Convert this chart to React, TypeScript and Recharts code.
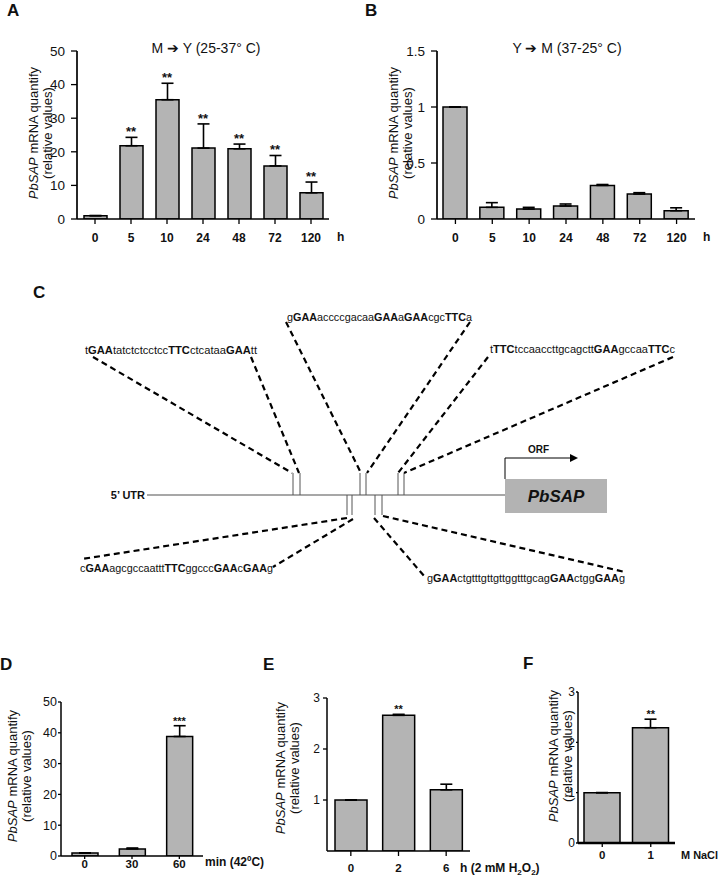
import React from 'react'
import {
  ComposedChart,
  Bar,
  Line,
  Scatter,
  XAxis,
  YAxis,
  ErrorBar,
  LabelList,
  ReferenceArea,
} from 'recharts'

const FONT = '"Liberation Sans", Arial, Helvetica, sans-serif'
const BAR_FILL = '#b4b4b4'
const INK = '#111'

// ── A: M -> Y (25-37 C) ─────────────────────────────
const hours = ['0', '5', '10', '24', '48', '72', '120']
const myMean = [1, 21.8, 35.5, 21.1, 20.9, 15.8, 7.8]
const myErr = [0, 2.5, 4.9, 7.2, 1.4, 3.1, 3.2]
const mySig = ['', '**', '**', '**', '**', '**', '**']

// ── B: Y -> M (37-25 C) ─────────────────────────────
const ymMean = [1, 0.104, 0.089, 0.116, 0.3, 0.223, 0.074]
const ymErr = [0, 0.042, 0.015, 0.018, 0.008, 0.012, 0.026]
const ymSig = ['', '', '', '', '', '', '']

// ── D: heat shock 42 C ──────────────────────────────
const heatMin = ['0', '30', '60']
const heatMean = [1, 2.3, 38.8]
const heatErr = [0, 0.3, 3.5]
const heatSig = ['', '', '***']

// ── E: 2 mM H2O2 ────────────────────────────────────
const oxHours = ['0', '2', '6']
const oxMean = [1, 2.66, 1.2]
const oxErr = [0, 0.02, 0.11]
const oxSig = ['', '**', '']

// ── F: 1 M NaCl ─────────────────────────────────────
const naclM = ['0', '1']
const naclMean = [1, 2.29]
const naclErr = [0, 0.17]
const naclSig = ['', '**']

// ── C: promoter diagram (page coordinates) ──────────
const utrSpan = [147, 505]
const utrY = 495
const topSites = [293, 300, 360, 366, 398, 404]
const bottomSites = [347, 352, 375, 382]
const connectors = [
  [93, 357, 292, 473],
  [251, 357, 299, 473],
  [286, 322, 361, 473],
  [470, 322, 367, 473],
  [488, 357, 398, 473],
  [673, 357, 404, 473],
  [347, 518, 82, 559],
  [353, 519, 273, 567],
  [374, 518, 425, 577],
  [383, 516, 625, 572],
]
const sequences = [
  'gGAAaccccgacaaGAAaGAAcgcTTCa',
  'tGAAtatctctcctccTTCctcataaGAAtt',
  'tTTCtccaaccttgcagcttGAAgccaaTTCc',
  'cGAAagcgccaatttTTCggcccGAAcGAAg',
  'gGAActgtttgttgttggtttgcagGAActggGAAg',
]
const seqAnchors = [
  [287, 321, 185],
  [85, 354, 172],
  [490, 353, 185],
  [80, 572, 193],
  [427, 582, 198],
]
const geneBox = [505, 607, 479, 513]
const orfPath = [
  [505, 479],
  [505, 458],
  [572, 458],
]

function rows(cats: string[], mean: number[], err: number[], sig: string[]) {
  return cats.map((c, i) => ({
    cat: c,
    mean: mean[i],
    err: [0, err[i]],
    top: mean[i] + err[i],
    sig: sig[i],
  }))
}

function starLabel(size: number) {
  return (p: any) => {
    if (!p.value) return null
    return (
      <text x={p.x} y={p.y - 1} textAnchor="middle" fontSize={size} fontWeight="bold" fontFamily={FONT} fill={INK}>
        {p.value}
      </text>
    )
  }
}

interface PanelProps {
  data: any[]
  left: number
  top: number
  width: number
  height: number
  margin: { top: number; right: number; bottom: number; left: number }
  yWidth: number
  xHeight: number
  domain: [number, number]
  ticks: number[]
  barSize: number
  yFont: number
  xFont: number
  yTickSize: number
  yTickMargin: number
  xTickSize: number
  xTickMargin: number
  axisWidth: number
  xAxisWidth?: number
  capHalf: number
  starSize: number
}

function BarPanel(p: PanelProps) {
  return (
    <div style={{ position: 'absolute', left: p.left, top: p.top }}>
      <ComposedChart width={p.width} height={p.height} data={p.data} margin={p.margin}>
        <XAxis
          dataKey="cat"
          height={p.xHeight}
          interval={0}
          tick={{ fontSize: p.xFont, fontWeight: 'bold', fill: INK, fontFamily: FONT }}
          tickSize={p.xTickSize}
          tickMargin={p.xTickMargin}
          axisLine={{ stroke: '#000', strokeWidth: p.xAxisWidth ?? p.axisWidth }}
          tickLine={{ stroke: '#000', strokeWidth: 1.3 }}
        />
        <YAxis
          domain={p.domain}
          ticks={p.ticks}
          width={p.yWidth}
          allowDataOverflow
          interval={0}
          tick={{ fontSize: p.yFont, fill: INK, fontFamily: FONT }}
          tickSize={p.yTickSize}
          tickMargin={p.yTickMargin}
          axisLine={{ stroke: '#000', strokeWidth: p.axisWidth }}
          tickLine={{ stroke: '#000', strokeWidth: 1.3 }}
        />
        <Bar dataKey="mean" fill={BAR_FILL} stroke="#000" strokeWidth={1.5} barSize={p.barSize} isAnimationActive={false}>
          <ErrorBar dataKey="err" direction="y" width={p.capHalf} stroke="#000" strokeWidth={1.6} />
        </Bar>
        <Line dataKey="top" stroke="none" dot={false} activeDot={false} legendType="none" isAnimationActive={false}>
          <LabelList dataKey="sig" content={starLabel(p.starSize)} />
        </Line>
      </ComposedChart>
    </div>
  )
}

function YLabel({ x, cy, size }: { x: number; cy: number; size: number }) {
  return (
    <g fontFamily={FONT} fontSize={size} fill={INK} textAnchor="middle">
      <text transform={`translate(${x},${cy}) rotate(-90)`}>
        <tspan fontStyle="italic">PbSAP</tspan> mRNA quantify
      </text>
      <text transform={`translate(${x + 14},${cy}) rotate(-90)`}>(relative values)</text>
    </g>
  )
}

function Seq({ s, x, y, len }: { s: string; x: number; y: number; len: number }) {
  const parts = s.match(/[A-Z]+|[a-z]+/g) || []
  return (
    <text x={x} y={y} fontSize={10} fontFamily={FONT} fill={INK} textLength={len} lengthAdjust="spacingAndGlyphs">
      {parts.map((t, i) => (
        <tspan key={i} fontWeight={/[A-Z]/.test(t) ? 'bold' : 'normal'}>
          {t}
        </tspan>
      ))}
    </text>
  )
}

const noDot = () => <g />

function seg(x1: number, y1: number, x2: number, y2: number) {
  return [
    { x: x1, y: y1 },
    { x: x2, y: y2 },
  ]
}

function Promoter() {
  const siteSegs = [
    ...topSites.map((sx) => seg(sx, 473, sx, utrY)),
    ...bottomSites.map((sx) => seg(sx, utrY, sx, 515)),
  ]
  return (
    <div style={{ position: 'absolute', left: 0, top: 290 }}>
      <ComposedChart width={720} height={300} margin={{ top: 0, right: 0, bottom: 0, left: 0 }}>
        <XAxis type="number" dataKey="x" domain={[0, 720]} allowDataOverflow hide />
        <YAxis type="number" dataKey="y" domain={[290, 590]} allowDataOverflow reversed hide />
        <ReferenceArea
          x1={geneBox[0]}
          x2={geneBox[1]}
          y1={geneBox[2]}
          y2={geneBox[3]}
          fill="#b3b3b3"
          fillOpacity={1}
          stroke="none"
          ifOverflow="visible"
        />
        <Scatter
          data={seg(utrSpan[0], utrY, utrSpan[1], utrY)}
          shape={noDot}
          line={{ stroke: '#8a8a8a', strokeWidth: 1.5 }}
          isAnimationActive={false}
        />
        {siteSegs.map((d, i) => (
          <Scatter key={'s' + i} data={d} shape={noDot} line={{ stroke: '#555', strokeWidth: 1 }} isAnimationActive={false} />
        ))}
        {connectors.map((c, i) => (
          <Scatter
            key={'c' + i}
            data={seg(c[0], c[1], c[2], c[3])}
            shape={noDot}
            line={{ stroke: '#000', strokeWidth: 2.2, strokeDasharray: '6 4' }}
            isAnimationActive={false}
          />
        ))}
        <Scatter
          data={orfPath.map(([x, y]) => ({ x, y }))}
          shape={noDot}
          line={{ stroke: '#000', strokeWidth: 1 }}
          isAnimationActive={false}
        />
        <Scatter
          data={[{ x: orfPath[2][0] + 6, y: orfPath[2][1] }]}
          shape={(s: any) => (
            <polygon points={`${s.cx - 8},${s.cy - 4} ${s.cx},${s.cy} ${s.cx - 8},${s.cy + 4}`} fill="#000" />
          )}
          isAnimationActive={false}
        />
      </ComposedChart>
    </div>
  )
}

export default function App() {
  const boldText = { fontFamily: FONT, fontWeight: 'bold' as const, fill: INK }
  return (
    <div style={{ position: 'absolute', left: 0, top: 0, width: 720, height: 879, background: '#fff' }}>
      <BarPanel
        data={rows(hours, myMean, myErr, mySig)}
        left={0}
        top={0}
        width={360}
        height={260}
        margin={{ top: 51, right: 31, bottom: 11, left: 0 }}
        yWidth={77}
        xHeight={30}
        domain={[0, 50]}
        ticks={[0, 10, 20, 30, 40, 50]}
        barSize={23}
        yFont={13.5}
        xFont={12}
        yTickSize={6}
        yTickMargin={6}
        xTickSize={5}
        xTickMargin={9}
        axisWidth={1.7}
        capHalf={6}
        starSize={13}
      />
      <BarPanel
        data={rows(hours, ymMean, ymErr, ymSig)}
        left={360}
        top={0}
        width={360}
        height={260}
        margin={{ top: 51, right: 25, bottom: 11, left: 0 }}
        yWidth={77}
        xHeight={30}
        domain={[0, 1.5]}
        ticks={[0, 0.5, 1, 1.5]}
        barSize={24}
        yFont={13.5}
        xFont={12}
        yTickSize={6}
        yTickMargin={6}
        xTickSize={5}
        xTickMargin={9}
        axisWidth={1.7}
        capHalf={6}
        starSize={13}
      />
      <Promoter />
      <BarPanel
        data={rows(heatMin, heatMean, heatErr, heatSig)}
        left={0}
        top={640}
        width={230}
        height={239}
        margin={{ top: 62, right: 27, bottom: 3, left: 0 }}
        yWidth={61}
        xHeight={20}
        domain={[0, 50]}
        ticks={[0, 10, 20, 30, 40, 50]}
        barSize={26}
        yFont={12.5}
        xFont={11.5}
        yTickSize={3}
        yTickMargin={1}
        xTickSize={3}
        xTickMargin={1}
        axisWidth={1.5}
        capHalf={6}
        starSize={11}
      />
      <BarPanel
        data={rows(oxHours, oxMean, oxErr, oxSig)}
        left={260}
        top={640}
        width={230}
        height={239}
        margin={{ top: 58, right: 20, bottom: 8, left: 0 }}
        yWidth={67}
        xHeight={20}
        domain={[0, 3]}
        ticks={[1, 2, 3]}
        barSize={32}
        yFont={12}
        xFont={11.5}
        yTickSize={4}
        yTickMargin={3}
        xTickSize={5}
        xTickMargin={8}
        axisWidth={1.5}
        capHalf={6}
        starSize={11}
      />
      <BarPanel
        data={rows(naclM, naclMean, naclErr, naclSig)}
        left={520}
        top={640}
        width={200}
        height={239}
        margin={{ top: 52, right: 45, bottom: 16, left: 0 }}
        yWidth={58}
        xHeight={20}
        domain={[0, 3]}
        ticks={[0, 1, 2, 3]}
        barSize={36}
        yFont={12}
        xFont={11.5}
        yTickSize={2}
        yTickMargin={1}
        xTickSize={4}
        xTickMargin={4}
        axisWidth={1.5}
        xAxisWidth={2.6}
        capHalf={6}
        starSize={11}
      />

      <svg
        width={720}
        height={879}
        style={{ position: 'absolute', left: 0, top: 0, pointerEvents: 'none' }}
      >
        {/* panel letters */}
        <g fontSize={17} {...boldText}>
          <text x={7} y={16}>A</text>
          <text x={365} y={16}>B</text>
          <text x={33} y={298}>C</text>
          <text x={0} y={670}>D</text>
          <text x={263} y={670}>E</text>
          <text x={523} y={669}>F</text>
        </g>

        {/* titles */}
        <g fontFamily={FONT} fontSize={14} fill={INK} textAnchor="middle" style={{ whiteSpace: 'pre' }}>
          <text x={206} y={53}>M ➔ Y (25-37°  C)</text>
          <text x={567} y={53}>Y ➔ M (37-25°  C)</text>
        </g>

        {/* y labels */}
        <YLabel x={38} cy={133} size={13} />
        <YLabel x={398} cy={133} size={13} />
        <YLabel x={17} cy={776} size={13} />
        <YLabel x={285} cy={768} size={13} />
        <YLabel x={558} cy={756} size={13} />

        {/* x units */}
        <g fontSize={12} {...boldText}>
          <text x={337} y={241}>h</text>
          <text x={703} y={241}>h</text>
          <text x={205} y={866}>min (42ºC)</text>
          <text x={460} y={872}>
            h (2 mM H
            <tspan fontSize={8} dy={3}>2</tspan>
            <tspan dy={-3}>O</tspan>
            <tspan fontSize={8} dy={3}>2</tspan>
            <tspan dy={-3}>)</tspan>
          </text>
          <text x={681} y={859} fontSize={11} textLength={37} lengthAdjust="spacingAndGlyphs">
            M NaCl
          </text>
        </g>

        {/* promoter texts */}
        {sequences.map((s, i) => (
          <Seq key={i} s={s} x={seqAnchors[i][0]} y={seqAnchors[i][1]} len={seqAnchors[i][2]} />
        ))}
        <text x={145} y={499} textAnchor="end" fontSize={11} {...boldText}>
          5’ UTR
        </text>
        <text x={528} y={453} fontSize={10} {...boldText}>
          ORF
        </text>
        <text x={556} y={502} textAnchor="middle" fontSize={17} fontStyle="italic" {...boldText}>
          PbSAP
        </text>
      </svg>
    </div>
  )
}
